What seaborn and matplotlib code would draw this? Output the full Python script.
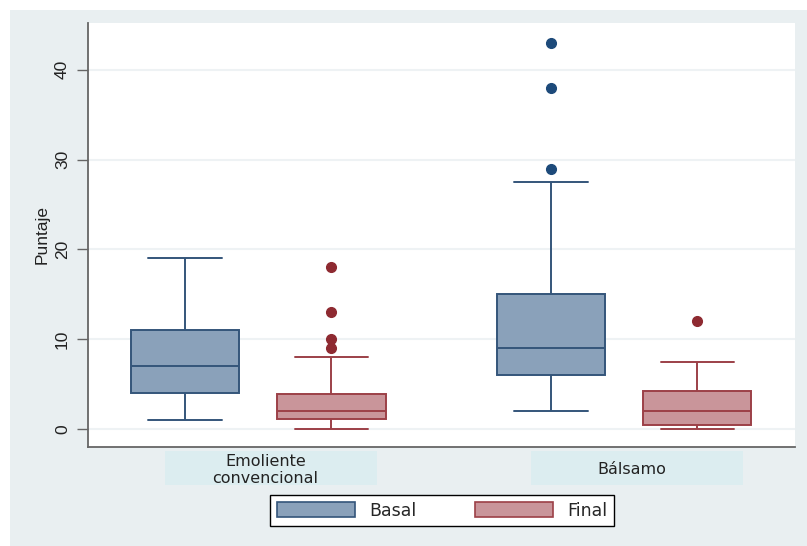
import pandas as pd
import matplotlib
matplotlib.use("Agg")
import matplotlib.pyplot as plt
import matplotlib.transforms as mtransforms
from matplotlib.patches import Patch, Rectangle
import seaborn as sns

# Scores per group
emol_basal = [1, 3, 4, 6, 7, 9, 11, 15, 19]
emol_final = [0, 0, 0.5, 1, 1, 1, 1.1, 1.5, 1.5, 2, 2, 2, 2, 2.5, 3, 3,
              3.5, 3.5, 3.9, 5, 8, 9, 10, 13, 18]
bals_basal = [2, 3, 4, 5, 5.5, 6, 7, 7.5, 8, 8.5, 9, 10, 11, 12, 14, 15,
              18, 27.5, 29, 38, 43]
bals_final = [0, 0, 0.3, 0.5, 1, 1.5, 2, 2.5, 3, 4.2, 5, 7.5, 12]

groups = ["Emoliente\nconvencional", "Bálsamo"]
moments = ["Basal", "Final"]
yticks = [0, 10, 20, 30, 40]

fill_colors = {"Basal": "#8aa1ba", "Final": "#c9959a"}
edge_colors = {"Basal": "#34557a", "Final": "#9c4047"}
dot_colors = {"Basal": "#1d4a7a", "Final": "#8e2a31"}

rows = []
for g, m, vals in [(groups[0], "Basal", emol_basal), (groups[0], "Final", emol_final),
                   (groups[1], "Basal", bals_basal), (groups[1], "Final", bals_final)]:
    for v in vals:
        rows.append({"grupo": g, "momento": m, "Puntaje": v})
df = pd.DataFrame(rows)

sns.set_style("white")
fig = plt.figure(figsize=(8.07, 5.46), dpi=100, facecolor="white")
fig.patches.append(Rectangle((10 / 807, 0), 1, 1 - 10 / 546, transform=fig.transFigure,
                             facecolor="#e9eff1", edgecolor="none", zorder=-10))
ax = fig.add_axes([88 / 807, 1 - 447 / 546, (795 - 88) / 807, (447 - 23) / 546])
ax.set_facecolor("white")

sns.boxplot(data=df, x="grupo", y="Puntaje", hue="momento", order=groups,
            hue_order=moments, palette=fill_colors, saturation=1, width=0.8,
            gap=0.26, whis=1.5, linewidth=1.4, capwidths=0.2,
            flierprops=dict(marker="o", markersize=7), ax=ax)

for cont, m in zip(ax.containers, moments):
    for b in cont.boxes:
        b.set_edgecolor(edge_colors[m])
        b.set_facecolor(fill_colors[m])
    for ln in list(cont.whiskers) + list(cont.caps) + list(cont.medians):
        ln.set_color(edge_colors[m])
    for f in cont.fliers:
        f.set_markerfacecolor(dot_colors[m])
        f.set_markeredgecolor(dot_colors[m])

ax.legend_.remove()
ax.set_xlim(-0.465, 1.467)
ax.set_ylim(-2.0, 45.2)
ax.set_yticks(yticks)
ax.set_yticklabels([str(t) for t in yticks], rotation=90, va="center",
                   fontsize=12.5, family="Liberation Sans", color="#222222")
ax.tick_params(axis="y", left=True, length=8, width=1, color="#666666", pad=5)
ax.set_xticks([])
ax.set_xlabel("")
ax.set_ylabel("Puntaje", fontsize=12.5, family="Liberation Sans", labelpad=4,
              color="#222222")
ax.yaxis.grid(True, color="#eef2f4", linewidth=1.5)
ax.set_axisbelow(True)
for s in ["top", "right"]:
    ax.spines[s].set_visible(False)
for s in ["left", "bottom"]:
    ax.spines[s].set_color("#666666")
    ax.spines[s].set_linewidth(1.3)

# category labels in shaded boxes below the axis
trans = mtransforms.blended_transform_factory(ax.transData, fig.transFigure)
for i, g in enumerate(groups):
    ax.add_patch(Rectangle((i - 0.255, 1 - 485 / 546), 0.58, 34 / 546, transform=trans,
                           facecolor="#dcedf0", edgecolor="none", clip_on=False, zorder=0))
    ax.text(i + 0.02, 1 - 470 / 546, g, transform=trans, ha="center", va="center",
            fontsize=11.5, family="DejaVu Sans", linespacing=1.1, color="#222222")

handles = [Patch(facecolor=fill_colors[m], edgecolor=edge_colors[m], linewidth=1.2)
           for m in moments]
fig.legend(handles, moments, loc="center", bbox_to_anchor=(442 / 807, 1 - 510.5 / 546),
           ncol=2, frameon=True, fancybox=False, edgecolor="black", framealpha=1,
           prop={"family": "DejaVu Sans", "size": 12.5}, handlelength=4.5,
           handleheight=1.0, columnspacing=3.4, handletextpad=0.8,
           borderpad=0.4)

fig.savefig("out.png", dpi=100, facecolor=fig.get_facecolor())
